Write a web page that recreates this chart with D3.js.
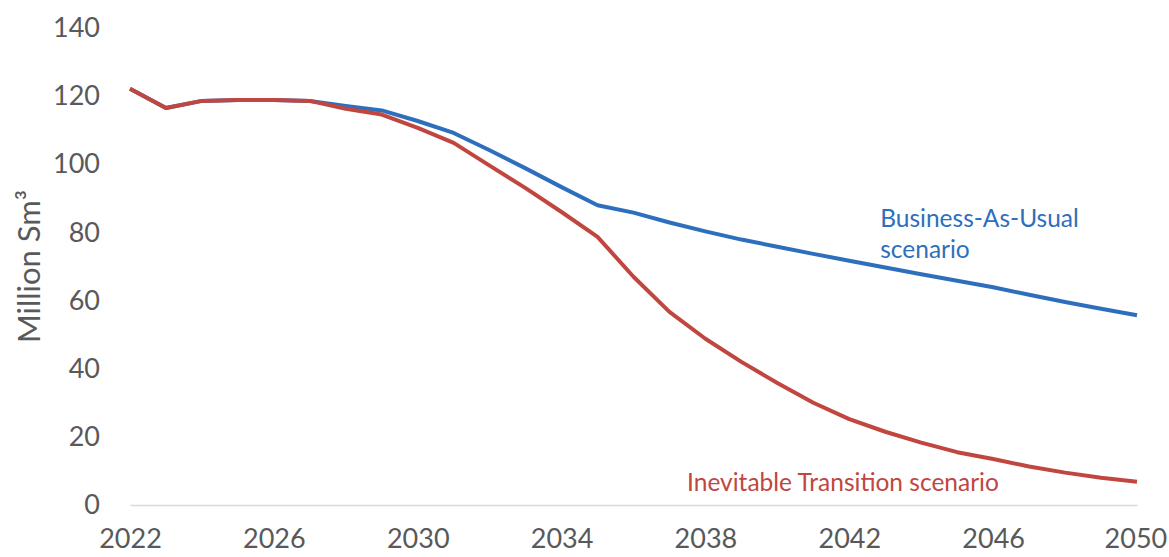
<!DOCTYPE html>
<html>
<head>
<meta charset="utf-8">
<script src="https://cdn.jsdelivr.net/npm/d3@7"></script>
<style>
  body { margin: 0; background: #fff; }
  text { font-family: Lato, "Open Sans", sans-serif; }
</style>
</head>
<body>
<svg id="chart"></svg>
<script>
// values
var years = d3.range(2022, 2051);
var businessAsUsual = [122.2, 116.5, 118.6, 118.9, 118.9, 118.6, 117.1, 115.8, 112.7, 109.2,
  104.1, 98.8, 93.3, 88.0, 85.8, 82.9, 80.3, 77.9, 75.8, 73.7,
  71.7, 69.7, 67.7, 65.8, 63.9, 61.7, 59.6, 57.6, 55.7];
var inevitableTransition = [122.2, 116.5, 118.6, 118.9, 118.9, 118.6, 116.3, 114.6, 110.7, 106.3,
  99.6, 93.0, 86.0, 78.7, 67.0, 56.7, 48.8, 42.0, 35.8, 30.0,
  25.2, 21.5, 18.3, 15.5, 13.5, 11.3, 9.5, 8.0, 6.8];
var xTicks = [2022, 2026, 2030, 2034, 2038, 2042, 2046, 2050];
var yTicks = [0, 20, 40, 60, 80, 100, 120, 140];

var svgWidth = 1169, svgHeight = 557;
var margin = { top: 28, right: 32, bottom: 52, left: 130 };
var width = svgWidth - margin.left - margin.right;
var height = svgHeight - margin.top - margin.bottom;

var svg = d3.select('#chart')
    .attr("width", svgWidth)
    .attr("height", svgHeight);

var g = svg.append("g")
    .attr("transform", "translate(" + margin.left + "," + margin.top + ")");

var x = d3.scaleLinear().domain([2022, 2050]).range([0, width]);
var y = d3.scaleLinear().domain([0, 140]).range([height, 0]);

// x axis
var xAxis = g.append("g")
    .attr("transform", "translate(0," + height + ")")
    .call(d3.axisBottom(x).tickValues(xTicks).tickFormat(d3.format("d")).tickSize(0).tickPadding(24));
xAxis.select(".domain").attr("stroke", "#d9d9d9").attr("stroke-width", 1.5);
xAxis.selectAll("text").attr("fill", "#595959").style("font-size", "27px");
// keep last label inside the window
xAxis.selectAll(".tick").filter(function(d) { return d === 2050; })
    .select("text").attr("text-anchor", "end").attr("dx", "1.1em");

// y axis
var yAxis = g.append("g")
    .call(d3.axisLeft(y).tickValues(yTicks).tickSize(0).tickPadding(30));
yAxis.select(".domain").remove();
yAxis.selectAll("text").attr("fill", "#595959").style("font-size", "27px");

svg.append("text")
    .attr("transform", "translate(40," + (margin.top + height / 2) + ") rotate(-90)")
    .attr("text-anchor", "middle")
    .attr("fill", "#595959")
    .style("font-size", "31px")
    .text("Million Sm³");

var line = d3.line()
    .x(function(d, i) { return x(years[i]); })
    .y(function(d) { return y(d); });

g.append("path")
    .datum(businessAsUsual)
    .attr("fill", "none")
    .attr("stroke", "#2e6fbd")
    .attr("stroke-width", 4)
    .attr("stroke-linejoin", "round")
    .attr("d", line);

g.append("path")
    .datum(inevitableTransition)
    .attr("fill", "none")
    .attr("stroke", "#c0463f")
    .attr("stroke-width", 4)
    .attr("stroke-linejoin", "round")
    .attr("d", line);

g.append("text")
    .attr("x", x(2042.86)).attr("y", y(81.6))
    .attr("fill", "#2e6fbd")
    .style("font-size", "24.5px")
    .text("Business-As-Usual");
g.append("text")
    .attr("x", x(2042.86)).attr("y", y(72.5))
    .attr("fill", "#2e6fbd")
    .style("font-size", "24.5px")
    .text("scenario");

g.append("text")
    .attr("x", x(2037.49)).attr("y", y(4.1))
    .attr("fill", "#c0463f")
    .style("font-size", "24.5px")
    .text("Inevitable Transition scenario");
</script>
</body>
</html>
